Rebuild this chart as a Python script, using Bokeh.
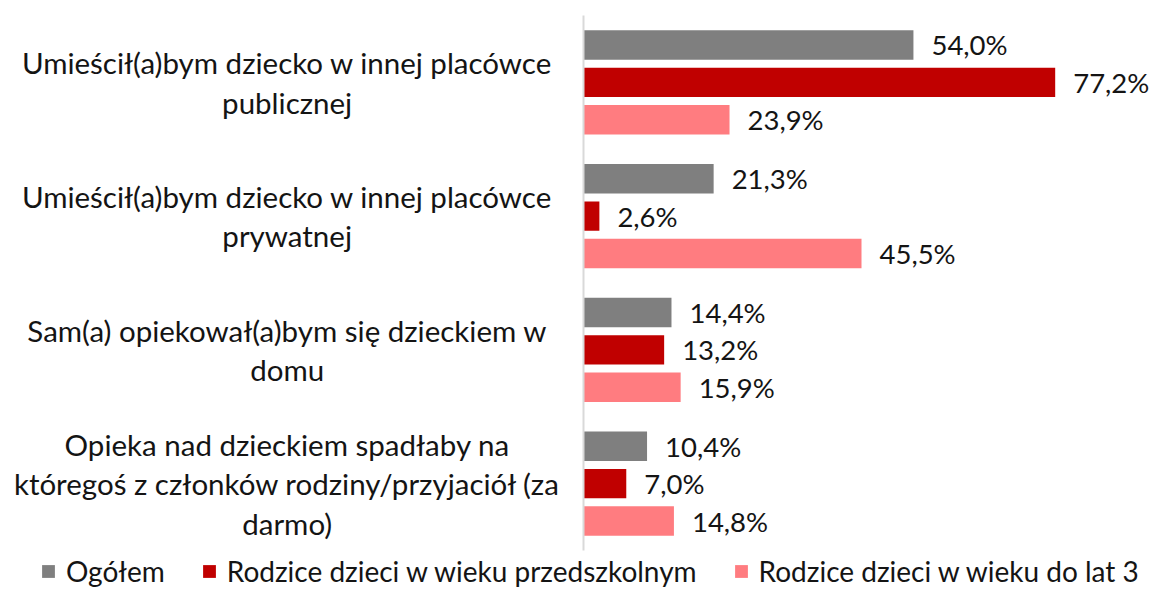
from bokeh.plotting import figure
from bokeh.models import Range1d, ColumnDataSource, Legend, LegendItem
from bokeh.core.properties import value
from bokeh.embed import file_html
from bokeh.resources import INLINE

categories = [
    "Umieścił(a)bym dziecko w innej placówce\npublicznej",
    "Umieścił(a)bym dziecko w innej placówce\nprywatnej",
    "Sam(a) opiekował(a)bym się dzieckiem w\ndomu",
    "Opieka nad dzieckiem spadłaby na\nktóregoś z członków rodziny/przyjaciół (za\ndarmo)",
]
series_names = ["Ogółem", "Rodzice dzieci w wieku przedszkolnym", "Rodzice dzieci w wieku do lat 3"]
ogolem = [54.0, 21.3, 14.4, 10.4]
przedszkolne = [77.2, 2.6, 13.2, 7.0]
do_lat_3 = [23.9, 45.5, 15.9, 14.8]
series_values = [ogolem, przedszkolne, do_lat_3]
colors = ["#7F7F7F", "#C00000", "#FF7C80"]

FONT = "Lato"
TXT = "#141414"
W, H = 1152, 592
px_per_unit_x = 6.11
x0_px = 583
px_per_cat = 133.75
y0_px = 15

p = figure(width=W, height=H, output_backend="svg", toolbar_location=None,
           x_range=Range1d(-x0_px / px_per_unit_x, (W - x0_px) / px_per_unit_x),
           y_range=Range1d((H - y0_px) / px_per_cat, -y0_px / px_per_cat),
           min_border=0, min_border_left=0, min_border_right=0,
           min_border_top=0, min_border_bottom=0)
p.axis.visible = False
p.grid.visible = False
p.outline_line_color = None
p.background_fill_color = "white"
p.border_fill_color = "white"

offsets = [-0.28, 0.0, 0.28]
renderers = []
for k, (vals, col, off) in enumerate(zip(series_values, colors, offsets)):
    ys = [i + 0.5 + off for i in range(len(categories))]
    src = ColumnDataSource(dict(y=ys, right=vals,
                                lab=[f"{v:.1f}%".replace(".", ",") for v in vals]))
    r = p.hbar(y="y", left=0, right="right", height=0.22, source=src,
               fill_color=col, line_color=None)
    renderers.append(r)
    p.text(x="right", y="y", text="lab", source=src, x_offset=18,
           text_align="left", text_baseline="middle",
           text_font=value(FONT), text_font_size="27.5px", text_color=TXT)

# axis line
p.segment(x0=[0], y0=[0], x1=[0], y1=[len(categories)], line_color="#D9D9D9", line_width=2)

# category labels
csrc = ColumnDataSource(dict(x=[-48.5] * len(categories),
                             y=[i + 0.5 for i in range(len(categories))],
                             t=categories))
p.text(x="x", y="y", text="t", source=csrc, text_align="center", text_baseline="middle",
       text_font=value(FONT), text_font_size="29.5px", text_color=TXT,
       text_line_height=1.13)

legend = Legend(items=[LegendItem(label=n, renderers=[r]) for n, r in zip(series_names, renderers)],
                orientation="horizontal", location=(40, 4),
                glyph_width=16, glyph_height=16, label_standoff=10, spacing=36,
                padding=0, margin=0, border_line_color=None, background_fill_alpha=0,
                label_text_font=FONT, label_text_font_size="28px", label_text_color=TXT)
p.add_layout(legend)

open("out.html", "w").write(file_html(p, INLINE))
